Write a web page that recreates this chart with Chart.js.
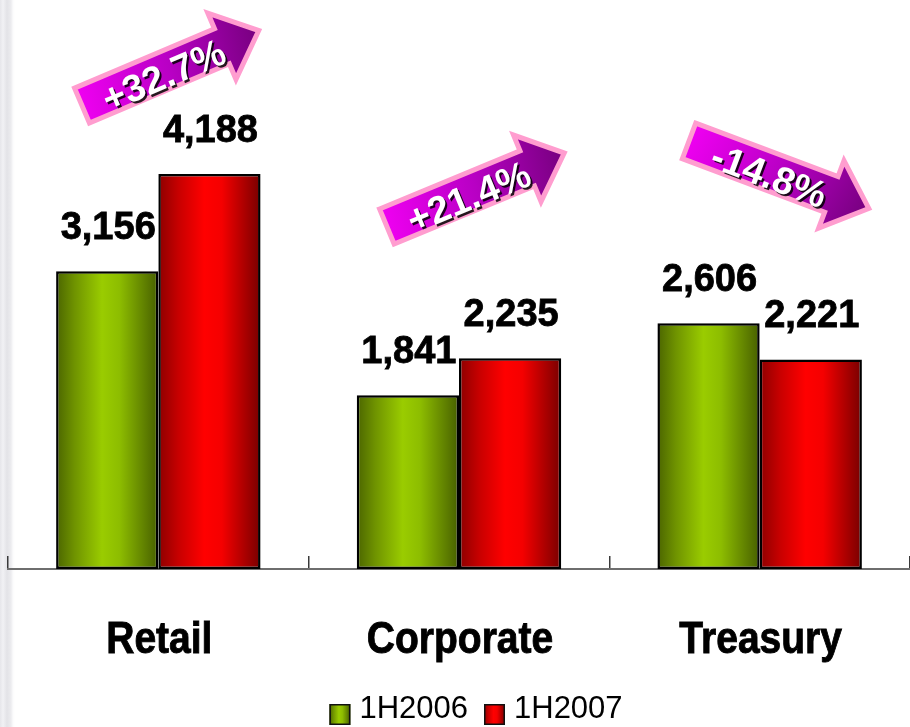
<!DOCTYPE html>
<html>
<head>
<meta charset="utf-8">
<title>Revenue by segment, 1H2006 vs 1H2007</title>
<script src="https://cdn.jsdelivr.net/npm/chart.js@4.4.1/dist/chart.umd.min.js"></script>
<style>
  html, body { margin: 0; padding: 0; background: #fff; }
  #wrap {
    position: relative; width: 910px; height: 727px;
    background: linear-gradient(to right, #e6e6ea 0, #f1f1f4 3px, #e3e3e7 7px, #ececef 11px, #fbfbfc 13px, #fff 15px);
  }
</style>
</head>
<body>
<div id="wrap"><canvas id="chart"></canvas></div>
<script>
// ---- data ----
const categories = ['Retail', 'Corporate', 'Treasury'];
const seriesNames = ['1H2006', '1H2007'];
const values2006 = [3156, 1841, 2606];
const values2007 = [4188, 2235, 2221];

// ---- look ----
const FONT = '"Liberation Sans", Arial, Helvetica, sans-serif';
const greenShade = [[0, '#4b6500'], [0.18, '#6f9300'], [0.45, '#9acc00'], [0.62, '#8dbd00'], [1, '#475f00']];
const redShade   = [[0, '#8c0000'], [0.2, '#c80000'], [0.45, '#ff0000'], [0.62, '#f50000'], [1, '#780000']];
const shades = [greenShade, redShade];

// Growth callouts: anchor in data units (category position, value) plus tilt
const calloutLayout = [
  { at: 0.04,  level: 5310, tilt: -23 },
  { at: 1.055, level: 4020, tilt: -22.5 },
  { at: 2.064, level: 4180, tilt: 20.6 }
];

function shadeGradient(ctx, left, right, stops) {
  const g = ctx.createLinearGradient(left, 0, right, 0);
  stops.forEach(([p, c]) => g.addColorStop(p, c));
  return g;
}

function pctChange(a, b) {
  const p = (b - a) / a * 100;
  return (p >= 0 ? '+' : '') + p.toFixed(1) + '%';
}

// heavy black lettering: fill plus a hairline outline
function heavyText(ctx, text, x, y) {
  ctx.fillText(text, x, y);
  ctx.lineWidth = 0.8;
  ctx.strokeStyle = ctx.fillStyle;
  ctx.strokeText(text, x, y);
}

function drawArrow(ctx, cx, cy, deg, text) {
  const L = 96, h = 19, H = 36, head = 40;
  ctx.save();
  ctx.translate(cx, cy);
  ctx.rotate(deg * Math.PI / 180);
  ctx.beginPath();
  ctx.moveTo(-L, -h);
  ctx.lineTo(L - head, -h);
  ctx.lineTo(L - head, -H);
  ctx.lineTo(L, 0);
  ctx.lineTo(L - head, H);
  ctx.lineTo(L - head, h);
  ctx.lineTo(-L, h);
  ctx.closePath();
  const g = ctx.createLinearGradient(-L, -h, L, h);
  g.addColorStop(0, '#f000f2');
  g.addColorStop(0.5, '#b800c4');
  g.addColorStop(1, '#74007c');
  ctx.fillStyle = g;
  ctx.fill();
  ctx.lineWidth = 5;
  ctx.lineJoin = 'miter';
  ctx.strokeStyle = '#ff9dcf';
  ctx.stroke();

  ctx.font = `bold 38px ${FONT}`;
  ctx.textAlign = 'center';
  ctx.textBaseline = 'alphabetic';
  ctx.shadowColor = 'rgba(0,0,0,0.85)';
  ctx.shadowOffsetX = 2;
  ctx.shadowOffsetY = 2;
  ctx.shadowBlur = 0;
  ctx.fillStyle = '#ffffff';
  ctx.fillText(text, -9, 17);
  ctx.restore();
}

const decorations = {
  id: 'decorations',
  beforeDatasetsDraw(chart) {
    const ctx = chart.ctx;
    chart.data.datasets.forEach((ds, i) => {
      chart.getDatasetMeta(i).data.forEach(bar => {
        const l = bar.x - bar.width / 2, r = bar.x + bar.width / 2;
        // every bar gets its own options copy so each gradient spans its own width
        bar.options = Object.assign({}, bar.options, {
          backgroundColor: shadeGradient(ctx, l, r, shades[i])
        });
      });
    });
  },
  afterDatasetsDraw(chart) {
    const ctx = chart.ctx;
    const xs = chart.scales.x, ys = chart.scales.y;

    // value labels above the bars
    ctx.save();
    ctx.font = `bold 38px ${FONT}`;
    ctx.textAlign = 'center';
    ctx.textBaseline = 'alphabetic';
    ctx.fillStyle = '#000';
    chart.data.datasets.forEach((ds, i) => {
      chart.getDatasetMeta(i).data.forEach((bar, j) => {
        heavyText(ctx, ds.data[j].toLocaleString('en-US'), bar.x + 1, bar.y - 32);
      });
    });
    ctx.restore();

    // growth arrows
    calloutLayout.forEach((c, i) => {
      const x = xs.getPixelForValue(c.at);
      const y = ys.getPixelForValue(c.level);
      drawArrow(ctx, x, y, c.tilt, pctChange(values2006[i], values2007[i]));
    });
  },
  afterDraw(chart) {
    const ctx = chart.ctx;
    const xs = chart.scales.x;
    const area = chart.chartArea;

    // category names, slightly tall lettering
    categories.forEach((name, i) => {
      ctx.save();
      ctx.translate(xs.getPixelForTick(i) + 1, area.bottom + 84);
      ctx.scale(1, 1.15);
      ctx.font = `bold 39px ${FONT}`;
      ctx.textAlign = 'center';
      ctx.textBaseline = 'alphabetic';
      ctx.fillStyle = '#000';
      heavyText(ctx, name, 0, 0);
      ctx.restore();
    });

    // legend
    ctx.save();
    ctx.font = `31px ${FONT}`;
    ctx.textBaseline = 'alphabetic';
    ctx.textAlign = 'left';
    const box = 21, gapIn = 9, gapOut = 16;
    const widths = seriesNames.map(s => ctx.measureText(s).width);
    const total = widths.reduce((a, w) => a + box + gapIn + w, 0) + gapOut * (seriesNames.length - 1);
    let x = (area.left + area.right) / 2 + 17 - total / 2;
    const baseline = area.bottom + 149;
    seriesNames.forEach((s, i) => {
      const top = baseline - 14;
      ctx.fillStyle = shadeGradient(ctx, x, x + box, shades[i]);
      ctx.fillRect(x, top, box, box);
      ctx.lineWidth = 1.5;
      ctx.strokeStyle = '#111';
      ctx.strokeRect(x + 0.75, top + 0.75, box - 1.5, box - 1.5);
      ctx.fillStyle = '#000';
      ctx.fillText(s, x + box + gapIn, baseline);
      x += box + gapIn + widths[i] + gapOut;
    });
    ctx.restore();
  }
};

const barStyle = {
  borderColor: '#000',
  borderWidth: 2.5,
  borderSkipped: false,
  barPercentage: 1,
  categoryPercentage: 0.68
};

new Chart(document.getElementById('chart'), {
  type: 'bar',
  data: {
    labels: categories,
    datasets: [
      Object.assign({ label: seriesNames[0], data: values2006, backgroundColor: '#99cc00' }, barStyle),
      Object.assign({ label: seriesNames[1], data: values2007, backgroundColor: '#ff0000' }, barStyle)
    ]
  },
  options: {
    responsive: true,
    maintainAspectRatio: false,
    devicePixelRatio: 1,
    animation: false,
    events: [],
    layout: { padding: { left: 8, right: 0, top: 3, bottom: 0 } },
    plugins: {
      colors: { enabled: false },
      legend: { display: false },
      tooltip: { enabled: false }
    },
    scales: {
      x: {
        offset: true,
        grid: {
          display: true, offset: true, drawOnChartArea: false,
          drawTicks: true, tickLength: -13, color: '#3a3a3a', lineWidth: 1.5
        },
        border: { display: true, color: '#6e6e6e', width: 2 },
        ticks: { display: false },
        afterFit(scale) { scale.height = 158; }
      },
      y: { display: false, min: 0, max: 6000 }
    }
  },
  plugins: [decorations]
});
</script>
</body>
</html>
